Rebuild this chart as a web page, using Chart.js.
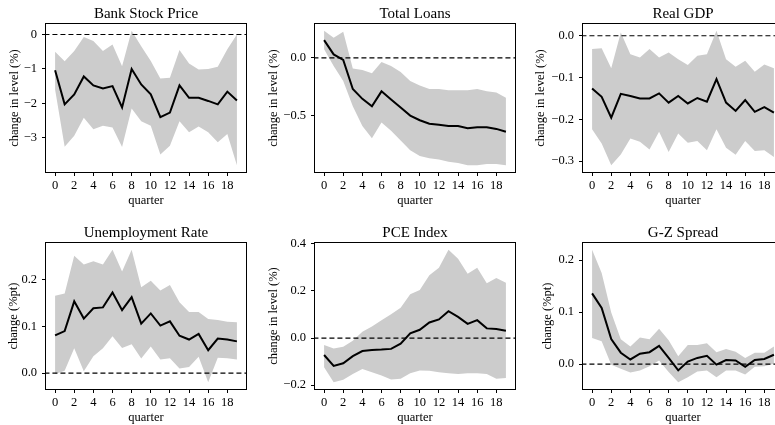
<!DOCTYPE html>
<html lang="en">
<head>
<meta charset="UTF-8">
<title>Impulse Responses</title>
<script src="https://cdn.jsdelivr.net/npm/chart.js"></script>
<style>
    body {
        margin: 0;
        width: 775px;
        height: 425px;
        overflow: hidden;
        position: relative;
        background: #fff;
    }
    canvas { position: absolute; }
</style>
</head>
<body>
<canvas id="c1"></canvas>
<canvas id="c2"></canvas>
<canvas id="c3"></canvas>
<canvas id="c4"></canvas>
<canvas id="c5"></canvas>
<canvas id="c6"></canvas>
<script>
    const quarters = [0, 1, 2, 3, 4, 5, 6, 7, 8, 9, 10, 11, 12, 13, 14, 15, 16, 17, 18, 19];
    const xTicks = [0, 2, 4, 6, 8, 10, 12, 14, 16, 18];

    // Bank Stock Price
    const bankMean  = [-1.04, -2.03, -1.74, -1.22, -1.48, -1.57, -1.50, -2.12, -1.00, -1.45, -1.74, -2.40, -2.27, -1.48, -1.84, -1.84, -1.93, -2.03, -1.66, -1.92];
    const bankUpper = [-0.50, -0.78, -0.48, -0.07, -0.19, -0.48, -0.29, -0.92, 0.11, -0.34, -0.77, -1.28, -1.26, -0.45, -0.84, -1.02, -1.00, -0.94, -0.43, 0.00];
    const bankLower = [-1.60, -3.26, -2.94, -2.42, -2.75, -2.65, -2.70, -3.27, -2.15, -2.52, -2.65, -3.49, -3.23, -2.52, -2.84, -2.67, -2.84, -3.13, -2.89, -3.80];
    const bankTicks = [-3, -2, -1, 0];
    const bankTickLabels = ['\u22123', '\u22122', '\u22121', '0'];

    // Total Loans
    const loansMean  = [0.154, 0.030, -0.017, -0.27, -0.355, -0.42, -0.29, -0.36, -0.43, -0.50, -0.54, -0.57, -0.58, -0.59, -0.59, -0.61, -0.60, -0.60, -0.615, -0.64];
    const loansUpper = [0.235, 0.175, 0.227, -0.093, -0.105, -0.134, -0.035, -0.07, -0.122, -0.20, -0.24, -0.27, -0.27, -0.28, -0.28, -0.28, -0.27, -0.29, -0.30, -0.345];
    const loansLower = [0.075, -0.07, -0.20, -0.42, -0.59, -0.695, -0.56, -0.63, -0.715, -0.80, -0.85, -0.87, -0.88, -0.90, -0.91, -0.93, -0.93, -0.92, -0.92, -0.93];
    const loansTicks = [-0.5, 0.0];
    const loansTickLabels = ['\u22120.5', '0.0'];

    // Real GDP
    const gdpMean  = [-0.126, -0.146, -0.196, -0.139, -0.144, -0.150, -0.150, -0.138, -0.160, -0.144, -0.162, -0.149, -0.158, -0.104, -0.160, -0.180, -0.154, -0.182, -0.171, -0.184];
    const gdpUpper = [-0.032, -0.030, -0.078, 0.008, -0.044, -0.052, -0.032, -0.052, -0.040, -0.056, -0.070, -0.048, -0.044, 0.012, -0.056, -0.074, -0.060, -0.086, -0.069, -0.078];
    const gdpLower = [-0.224, -0.258, -0.310, -0.284, -0.246, -0.254, -0.272, -0.230, -0.278, -0.234, -0.256, -0.252, -0.274, -0.224, -0.268, -0.285, -0.252, -0.276, -0.274, -0.290];
    const gdpTicks = [-0.3, -0.2, -0.1, 0.0];
    const gdpTickLabels = ['\u22120.3', '\u22120.2', '\u22120.1', '0.0'];

    // Unemployment Rate
    const unempMean  = [0.081, 0.090, 0.154, 0.117, 0.139, 0.141, 0.173, 0.135, 0.163, 0.106, 0.128, 0.102, 0.111, 0.080, 0.072, 0.084, 0.049, 0.074, 0.072, 0.068];
    const unempUpper = [0.166, 0.171, 0.252, 0.233, 0.240, 0.233, 0.265, 0.218, 0.265, 0.184, 0.198, 0.177, 0.189, 0.152, 0.131, 0.131, 0.116, 0.114, 0.110, 0.109];
    const unempLower = [-0.002, 0.005, 0.053, 0.004, 0.036, 0.053, 0.079, 0.054, 0.062, 0.031, 0.057, 0.029, 0.032, 0.010, 0.013, 0.035, -0.020, 0.033, 0.032, 0.029];
    const unempTicks = [0.0, 0.1, 0.2];
    const unempTickLabels = ['0.0', '0.1', '0.2'];

    // PCE Index
    const pceMean  = [-0.072, -0.118, -0.107, -0.077, -0.055, -0.051, -0.049, -0.046, -0.024, 0.020, 0.035, 0.066, 0.079, 0.114, 0.090, 0.060, 0.076, 0.041, 0.038, 0.031];
    const pceUpper = [-0.030, -0.044, -0.037, -0.011, 0.027, 0.049, 0.076, 0.101, 0.129, 0.186, 0.204, 0.266, 0.298, 0.375, 0.336, 0.273, 0.298, 0.232, 0.255, 0.235];
    const pceLower = [-0.124, -0.188, -0.177, -0.152, -0.131, -0.145, -0.159, -0.176, -0.173, -0.149, -0.138, -0.139, -0.145, -0.149, -0.152, -0.149, -0.149, -0.152, -0.173, -0.170];
    const pceTicks = [-0.2, 0.0, 0.2, 0.4];
    const pceTickLabels = ['\u22120.2', '0.0', '0.2', '0.4'];

    // G-Z Spread
    const gzMean  = [0.136, 0.108, 0.048, 0.022, 0.009, 0.020, 0.023, 0.035, 0.012, -0.012, 0.005, 0.012, 0.016, -0.001, 0.008, 0.007, -0.005, 0.008, 0.010, 0.018];
    const gzUpper = [0.220, 0.175, 0.099, 0.048, 0.034, 0.051, 0.048, 0.068, 0.046, 0.015, 0.037, 0.037, 0.040, 0.023, 0.029, 0.024, 0.012, 0.022, 0.022, 0.034];
    const gzLower = [0.050, 0.044, -0.001, -0.009, -0.016, -0.012, -0.004, 0.007, -0.015, -0.035, -0.025, -0.014, -0.012, -0.025, -0.012, -0.012, -0.020, -0.005, -0.004, 0.001];
    const gzTicks = [0.0, 0.1, 0.2];
    const gzTickLabels = ['0.0', '0.1', '0.2'];

    const panels = [
        { id: 'c1', title: 'Bank Stock Price', yLabel: 'change in level (%)', mean: bankMean, upper: bankUpper, lower: bankLower, ticks: bankTicks, labels: bankTickLabels },
        { id: 'c2', title: 'Total Loans', yLabel: 'change in level (%)', mean: loansMean, upper: loansUpper, lower: loansLower, ticks: loansTicks, labels: loansTickLabels },
        { id: 'c3', title: 'Real GDP', yLabel: 'change in level (%)', mean: gdpMean, upper: gdpUpper, lower: gdpLower, ticks: gdpTicks, labels: gdpTickLabels },
        { id: 'c4', title: 'Unemployment Rate', yLabel: 'change (%pt)', mean: unempMean, upper: unempUpper, lower: unempLower, ticks: unempTicks, labels: unempTickLabels },
        { id: 'c5', title: 'PCE Index', yLabel: 'change in level (%)', mean: pceMean, upper: pceUpper, lower: pceLower, ticks: pceTicks, labels: pceTickLabels },
        { id: 'c6', title: 'G-Z Spread', yLabel: 'change (%pt)', mean: gzMean, upper: gzUpper, lower: gzLower, ticks: gzTicks, labels: gzTickLabels }
    ];

    // where each canvas sits on the page
    const boxes = [
        { left: 7,   top: 0,   yWidth: 39, plotH: 148 },
        { left: 266, top: 0,   yWidth: 49, plotH: 148 },
        { left: 533, top: 0,   yWidth: 50, plotH: 148 },
        { left: 6,   top: 219, yWidth: 40, plotH: 146 },
        { left: 266, top: 219, yWidth: 49, plotH: 146 },
        { left: 540, top: 219, yWidth: 43, plotH: 146 }
    ];
    const plotW = 200;
    const rightPad = 4;
    const titleH = 24;
    const xAxisH = 40;

    Chart.defaults.font.family = "'Liberation Serif', 'Times New Roman', serif";
    Chart.defaults.color = '#000';

    // draw the full axes frame like matplotlib spines
    const frame = {
        id: 'frame',
        afterDraw(chart) {
            const a = chart.chartArea;
            const ctx = chart.ctx;
            ctx.save();
            ctx.strokeStyle = '#000';
            ctx.lineWidth = 1;
            ctx.strokeRect(Math.round(a.left) - 0.5, Math.round(a.top) - 0.5,
                Math.round(a.right - a.left) + 1, Math.round(a.bottom - a.top) + 1);
            ctx.restore();
        }
    };

    const xMin = quarters[0] - 0.05 * (quarters[quarters.length - 1] - quarters[0]);
    const xMax = quarters[quarters.length - 1] + 0.05 * (quarters[quarters.length - 1] - quarters[0]);

    function points(arr) {
        return quarters.map((q, i) => ({ x: q, y: arr[i] }));
    }

    panels.forEach((p, k) => {
        const b = boxes[k];
        const canvas = document.getElementById(p.id);
        canvas.width = b.yWidth + plotW + rightPad;
        canvas.height = titleH + b.plotH + xAxisH;
        canvas.style.left = b.left + 'px';
        canvas.style.top = b.top + 'px';

        const lo = Math.min(...p.lower);
        const hi = Math.max(...p.upper);
        const pad = 0.05 * (hi - lo);

        new Chart(canvas, {
            type: 'line',
            data: {
                datasets: [
                    { data: points(p.mean), borderColor: '#000', borderWidth: 2, pointRadius: 0, fill: false, tension: 0 },
                    { data: [{ x: xMin - 1, y: 0 }, { x: xMax + 1, y: 0 }], borderColor: '#000', borderWidth: 1.2, borderDash: [5, 3], pointRadius: 0, fill: false },
                    { data: points(p.upper), borderColor: 'rgba(0,0,0,0)', borderWidth: 0, backgroundColor: '#cccccc', pointRadius: 0, fill: '+1', tension: 0 },
                    { data: points(p.lower), borderColor: 'rgba(0,0,0,0)', borderWidth: 0, pointRadius: 0, fill: false, tension: 0 }
                ]
            },
            options: {
                responsive: false,
                animation: false,
                devicePixelRatio: 1,
                layout: { padding: { left: 0, right: rightPad, top: 0, bottom: 0 } },
                plugins: {
                    legend: { display: false },
                    tooltip: { enabled: false },
                    title: {
                        display: true,
                        text: p.title,
                        fullSize: false,
                        color: '#000',
                        font: { size: 15, weight: 'normal', lineHeight: 1.2 },
                        padding: { top: 4.6, bottom: 1.4 }
                    }
                },
                scales: {
                    x: {
                        type: 'linear',
                        min: xMin,
                        max: xMax,
                        afterBuildTicks: s => { s.ticks = xTicks.map(v => ({ value: v })); },
                        afterFit: s => { s.height = xAxisH; s.paddingLeft = 0; s.paddingRight = 0; },
                        ticks: { font: { size: 12.5 }, padding: 2, maxRotation: 0, autoSkip: false, color: '#000' },
                        grid: { drawOnChartArea: false, tickLength: 4, tickColor: '#000' },
                        border: { display: false },
                        title: { display: true, text: 'quarter', color: '#000', font: { size: 12.5 }, padding: { top: 0, bottom: 4 } }
                    },
                    y: {
                        type: 'linear',
                        min: lo - pad,
                        max: hi + pad,
                        afterBuildTicks: s => { s.ticks = p.ticks.map(v => ({ value: v })); },
                        afterFit: s => { s.width = b.yWidth; s.paddingTop = 0; s.paddingBottom = 0; },
                        ticks: { font: { size: 12.5 }, padding: 5, autoSkip: false, color: '#000', callback: (v, i) => p.labels[i] },
                        grid: { drawOnChartArea: false, tickLength: 4, tickColor: '#000' },
                        border: { display: false },
                        title: { display: true, text: p.yLabel, color: '#000', font: { size: 12.5 }, padding: { top: 0, bottom: 0 } }
                    }
                }
            },
            plugins: [frame]
        });
    });
</script>
</body>
</html>
